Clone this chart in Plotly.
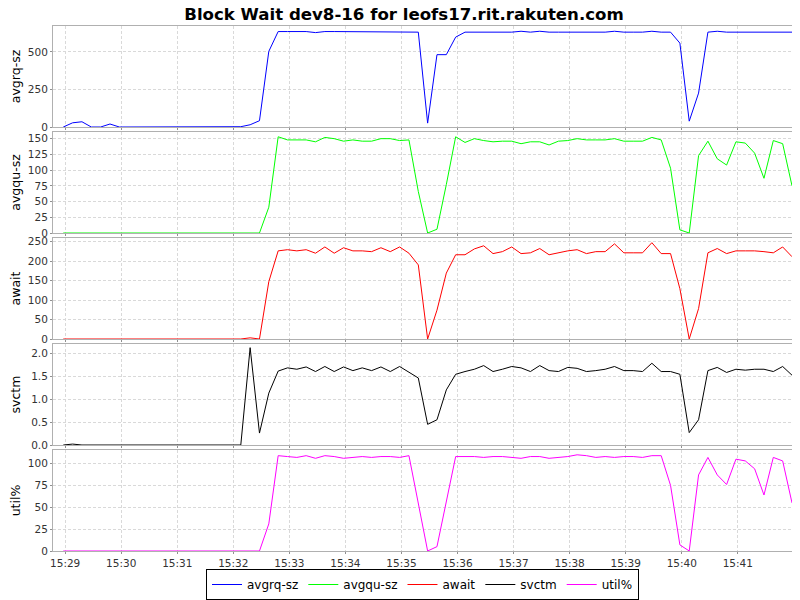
import pandas as pd
import plotly.graph_objects as go
from plotly.subplots import make_subplots

# sampling every 10 s, 79 samples
times = pd.date_range("2013-01-01 15:28:58", periods=79, freq="10s")

avgrq_sz = [0, 28, 35, 0, 0, 20, 0, 0, 0, 0, 0, 0, 0, 0, 0, 0, 0, 0, 0, 2,
            15, 42, 504, 636, 636, 636, 636, 629, 636, 636, 636, 632, 636, 632, 632, 636,
            632, 632, 632, 26, 482, 482, 599, 632, 632, 632, 632, 632, 632, 638,
            632, 638, 632, 632, 632, 632, 632, 632, 632, 638, 632, 632, 632, 638,
            632, 632, 559, 39, 226, 632, 638, 632, 632, 632, 632, 632, 632, 632, 632]

avgqu_sz = [0, 0, 0, 0, 0, 0, 0, 0, 0, 0, 0, 0, 0, 0, 0, 0, 0, 0, 0, 0,
            0, 0, 41, 153, 148, 148, 148, 145, 152, 150, 146, 148, 146, 146, 150, 150,
            147, 148, 66, 0, 6, 77, 153, 144, 150, 147, 145, 146, 146, 142,
            145, 145, 140, 146, 147, 150, 148, 148, 148, 150, 146, 146, 146, 152,
            148, 103, 5, 0, 123, 146, 118, 108, 145, 143, 127, 87, 147, 142, 75]

await_ms = [0, 0, 0, 0, 0, 0, 0, 0, 0, 0, 0, 0, 0, 0, 0, 0, 0, 0, 0, 0,
            3, 0, 147, 226, 229, 226, 229, 220, 236, 220, 234, 226, 226, 224, 234, 224,
            236, 220, 190, 0, 74, 169, 216, 216, 231, 239, 219, 224, 236, 219,
            221, 232, 216, 221, 226, 229, 219, 224, 224, 244, 221, 221, 221, 247,
            219, 219, 129, 0, 78, 221, 232, 219, 226, 226, 226, 224, 221, 236, 211]

svctm = [0, 0.02, 0, 0, 0, 0, 0, 0, 0, 0, 0, 0, 0, 0, 0, 0, 0, 0, 0, 0,
         2.12, 0.26, 1.13, 1.61, 1.68, 1.65, 1.70, 1.60, 1.71, 1.60, 1.70, 1.62, 1.68, 1.62, 1.70, 1.60,
         1.71, 1.58, 1.46, 0.45, 0.55, 1.20, 1.54, 1.60, 1.65, 1.73, 1.60, 1.65, 1.71, 1.68,
         1.60, 1.73, 1.62, 1.60, 1.69, 1.67, 1.60, 1.62, 1.65, 1.71, 1.62, 1.62, 1.60, 1.78,
         1.60, 1.60, 1.54, 0.27, 0.55, 1.62, 1.69, 1.58, 1.65, 1.63, 1.65, 1.65, 1.60, 1.71, 1.52]

util = [0, 0, 0, 0, 0, 0, 0, 0, 0, 0, 0, 0, 0, 0, 0, 0, 0, 0, 0, 0,
        0, 0, 31, 109, 108, 107, 109, 106, 109, 108, 106, 107, 108, 107, 108, 108,
        107, 109, 55, 0, 5, 56, 108, 108, 108, 107, 108, 108, 107, 106,
        108, 108, 106, 107, 108, 110, 109, 107, 108, 107, 108, 108, 107, 109,
        109, 75, 7, 0, 87, 107, 87, 76, 105, 103, 94, 64, 107, 103, 55]

names = ["avgrq-sz", "avgqu-sz", "await", "svctm", "util%"]
colors = ["#0000ff", "#00ff00", "#ff0000", "#000000", "#ff00ff"]
series = [avgrq_sz, avgqu_sz, await_ms, svctm, util]
yranges = [[0, 673], [0, 160.6], [0, 259], [0, 2.2], [0, 115.5]]
ydticks = [250, 25, 50, 0.5, 25]

fig = make_subplots(rows=5, cols=1, shared_xaxes=True, vertical_spacing=0.0095)

for i in range(5):
    fig.add_trace(
        go.Scatter(
            x=times,
            y=series[i],
            name=names[i],
            mode="lines",
            line=dict(color=colors[i], width=1),
        ),
        row=i + 1, col=1
    )
    fig.update_yaxes(
        title_text=names[i],
        title_font=dict(size=12.5),
        title_standoff=8,
        range=yranges[i],
        dtick=ydticks[i],
        tick0=0,
        tickformat=".1f" if i == 3 else "d",
        row=i + 1, col=1
    )

fig.update_yaxes(
    automargin=False,
    showline=True, mirror=True, linecolor="#b0b0b0", linewidth=1,
    showgrid=True, gridcolor="#d9d9d9", griddash="3px,2px", gridwidth=1,
    zeroline=False, ticks="outside", ticklen=2, tickcolor="#909090",
    tickfont=dict(size=10.5, color="#333333"),
)
fig.update_xaxes(
    automargin=False,
    type="date",
    range=["2013-01-01 15:28:47", "2013-01-01 15:41:58"],
    tick0="2013-01-01 15:29:00", dtick=60000, tickformat="%H:%M",
    showline=True, mirror=True, linecolor="#b0b0b0", linewidth=1,
    showgrid=True, gridcolor="#d9d9d9", griddash="3px,2px", gridwidth=1,
    zeroline=False, ticks="outside", ticklen=2, tickcolor="#909090",
    tickfont=dict(size=10.5, color="#333333"),
)

# the page adds an 8px body margin, so the figure is 792x592
fig.update_layout(
    width=792, height=592,
    title=dict(text="<b>Block Wait dev8-16 for leofs17.rit.rakuten.com</b>",
               x=0.5, xanchor="center", yref="container", y=1.0, yanchor="top",
               pad=dict(t=0, b=0),
               font=dict(size=16.6, color="black")),
    font=dict(family="DejaVu Sans", color="black"),
    margin=dict(l=45, r=8, t=18, b=49),
    paper_bgcolor="white", plot_bgcolor="white",
    showlegend=True,
    legend=dict(orientation="h", x=0.5, xanchor="center",
                yref="container", y=0.0, yanchor="bottom",
                bordercolor="black", borderwidth=1, font=dict(size=12),
                itemwidth=30, tracegroupgap=0),
)

fig.write_html("out.html")
